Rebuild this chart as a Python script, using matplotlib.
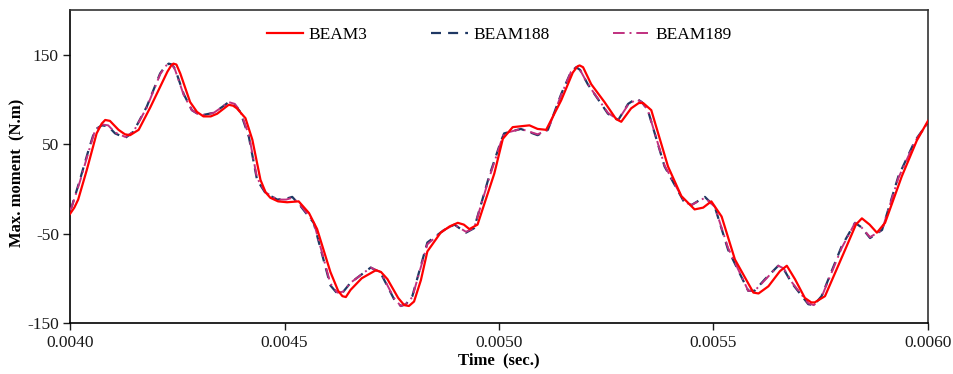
import matplotlib.pyplot as plt
from matplotlib.ticker import FormatStrFormatter

# time in units of 1e-5 s, bending moment in N.m
t_beam3 = [400.0, 401.0, 401.9, 403.9, 406.2, 407.4, 408.2, 409.3, 411.3, 412.8,
           414.0, 416.0, 418.7, 421.0, 422.7, 423.6, 424.1, 424.8, 425.7, 428.0,
           429.6, 431.1, 432.8, 434.3, 437.0, 438.0, 438.9, 440.9, 442.5, 444.4,
           445.6, 446.7, 448.5, 450.6, 453.3, 455.7, 457.6, 460.7, 462.5, 463.5,
           464.3, 465.4, 468.0, 471.3, 472.5, 474.0, 476.5, 477.9, 479.0, 480.2,
           481.8, 483.3, 486.4, 488.5, 490.4, 491.8, 493.1, 495.0, 498.9, 500.9,
           503.2, 507.1, 509.0, 511.0, 514.5, 517.2, 518.3, 518.8, 519.6, 521.5,
           524.6, 527.3, 528.5, 530.8, 532.6, 533.6, 535.5, 539.4, 542.5, 545.6,
           547.6, 549.5, 551.9, 555.0, 559.3, 560.5, 562.8, 565.5, 567.1, 569.0,
           571.3, 572.8, 573.6, 576.0, 580.7, 583.2, 584.6, 586.4, 588.1, 590.0,
           593.9, 597.4, 600.0]
m_beam3 = [-28, -21, -12, 21, 62, 73, 77, 76, 66, 61,
           60, 66, 91, 114, 131, 138, 140, 139, 129, 97,
           86, 81, 81, 84, 94, 93, 90, 79, 55, 10,
           -4, -10, -14, -15, -14, -27, -45, -93, -114, -120,
           -121, -113, -100, -91, -93, -101, -122, -130, -131, -126,
           -102, -70, -49, -42, -38, -40, -45, -40, 17, 56,
           69, 71, 67, 66, 99, 130, 137, 138, 136, 117,
           97, 78, 75, 90, 96, 96, 88, 25, -8, -23,
           -21, -14, -31, -79, -116, -117, -109, -92, -86, -101,
           -122, -127, -127, -120, -68, -40, -33, -40, -49, -38,
           14, 54, 76]

t_beam188 = [400.0, 400.4, 402.3, 404.3, 405.8, 407.4, 408.9, 410.5, 412.9, 414.8,
             417.9, 421.0, 422.2, 423.0, 423.8, 424.5, 426.5, 428.4, 430.4, 433.5,
             435.6, 437.0, 438.4, 439.7, 441.7, 443.6, 445.6, 448.3, 450.4, 451.8,
             453.7, 456.8, 460.7, 462.3, 463.7, 465.4, 470.1, 472.4, 475.5, 477.1,
             478.3, 479.8, 483.3, 487.2, 489.6, 492.3, 494.2, 497.7, 500.5, 501.2,
             505.1, 509.0, 511.4, 514.5, 516.8, 518.0, 518.9, 520.7, 525.4, 527.8,
             530.1, 532.0, 533.3, 534.7, 538.6, 543.3, 544.9, 548.0, 550.3, 553.4,
             558.1, 559.6, 562.0, 565.1, 566.4, 568.2, 572.1, 573.4, 575.2, 579.9,
             583.0, 584.5, 586.5, 589.3, 593.1, 597.0, 600.0]
m_beam188 = [-23, -20, 10, 43, 66, 71, 70, 62, 57, 64,
             92, 129, 137, 140, 139, 134, 106, 88, 82, 85,
             92, 97, 94, 86, 58, 10, -5, -12, -11, -9,
             -19, -38, -108, -117, -115, -105, -88, -94, -123, -131,
             -129, -120, -60, -46, -40, -49, -44, 14, 54, 62,
             67, 60, 66, 106, 131, 136, 133, 117, 84, 77,
             95, 101, 97, 88, 25, -16, -18, -9, -20, -68,
             -114, -114, -101, -86, -90, -105, -129, -130, -120, -64,
             -38, -43, -55, -46, 14, 54, 74]

t_beam189 = [400.0, 400.4, 402.3, 404.3, 405.8, 407.4, 408.9, 410.5, 412.9, 414.8,
             417.9, 421.0, 422.2, 423.0, 423.8, 424.5, 426.5, 428.4, 430.4, 433.5,
             435.6, 437.0, 438.4, 439.7, 441.7, 443.6, 445.6, 448.3, 450.4, 451.8,
             453.7, 456.8, 460.7, 462.3, 463.7, 465.4, 470.1, 472.4, 475.5, 477.1,
             478.3, 479.8, 483.3, 487.2, 489.6, 492.3, 494.2, 497.7, 500.5, 501.2,
             505.1, 509.0, 511.4, 514.5, 516.8, 518.0, 518.9, 520.7, 525.4, 527.8,
             530.1, 532.0, 533.3, 534.7, 538.6, 543.3, 544.9, 548.0, 550.3, 553.4,
             558.1, 559.6, 562.0, 565.1, 566.4, 568.2, 572.1, 573.4, 575.2, 579.9,
             583.0, 584.5, 586.5, 589.3, 593.1, 597.0, 600.0]
m_beam189 = [-24, -20, 8, 41, 65, 72, 71, 63, 58, 64,
             91, 128, 137, 140, 139, 133, 105, 88, 82, 85,
             92, 97, 95, 87, 60, 12, -4, -12, -12, -10,
             -18, -37, -106, -116, -115, -105, -88, -93, -122, -131,
             -129, -121, -62, -46, -40, -48, -44, 12, 53, 62,
             67, 61, 66, 105, 131, 136, 133, 117, 85, 77,
             94, 100, 97, 88, 26, -15, -18, -10, -20, -66,
             -114, -114, -102, -86, -89, -104, -128, -130, -121, -66,
             -38, -43, -54, -46, 12, 53, 74]

to_sec = lambda ts: [v * 1e-5 for v in ts]

plt.rcParams["font.family"] = ["Liberation Serif", "DejaVu Serif"]
plt.rcParams["axes.unicode_minus"] = False

fig = plt.figure(figsize=(9.54, 3.74), dpi=100)
ax = fig.add_axes([0.0734, 0.1364, 0.8993, 0.8369])

ax.plot(to_sec(t_beam3), m_beam3, color="#FF0000", lw=1.6,
        label="BEAM3", zorder=4)
ax.plot(to_sec(t_beam188), m_beam188, color="#1F3864", lw=1.6,
        dashes=(4.5, 3.2), label="BEAM188", zorder=2)
ax.plot(to_sec(t_beam189), m_beam189, color="#C0307F", lw=1.4,
        dashes=(6, 2.5, 1, 2.5), label="BEAM189", zorder=3)

ax.set_xlim(0.004, 0.006)
ax.set_ylim(-150, 200)
ax.set_xticks([0.0040, 0.0045, 0.0050, 0.0055, 0.0060])
ax.set_yticks([-150, -50, 50, 150])
ax.xaxis.set_major_formatter(FormatStrFormatter("%.4f"))
ax.tick_params(direction="out", length=5, width=1, labelsize=12.5,
               colors="#1a1a1a")
ax.tick_params(axis="x", pad=4)
ax.tick_params(axis="y", pad=3)

for side in ("left", "bottom"):
    ax.spines[side].set_color("black")
    ax.spines[side].set_linewidth(1.2)
for side in ("top", "right"):
    ax.spines[side].set_color("#333333")
    ax.spines[side].set_linewidth(1.2)

ax.set_xlabel("Time  (sec.)", fontsize=12, fontweight="bold", labelpad=1)
ax.set_ylabel("Max. moment  (N.m)", fontsize=12, fontweight="bold")
ax.yaxis.set_label_coords(-0.052, 0.48)

ax.legend(loc="upper center", bbox_to_anchor=(0.5, 0.995), ncol=3,
          frameon=False, fontsize=12.5, handlelength=2.1,
          columnspacing=3.7, handletextpad=0.3)

fig.savefig("out.png", dpi=100)
